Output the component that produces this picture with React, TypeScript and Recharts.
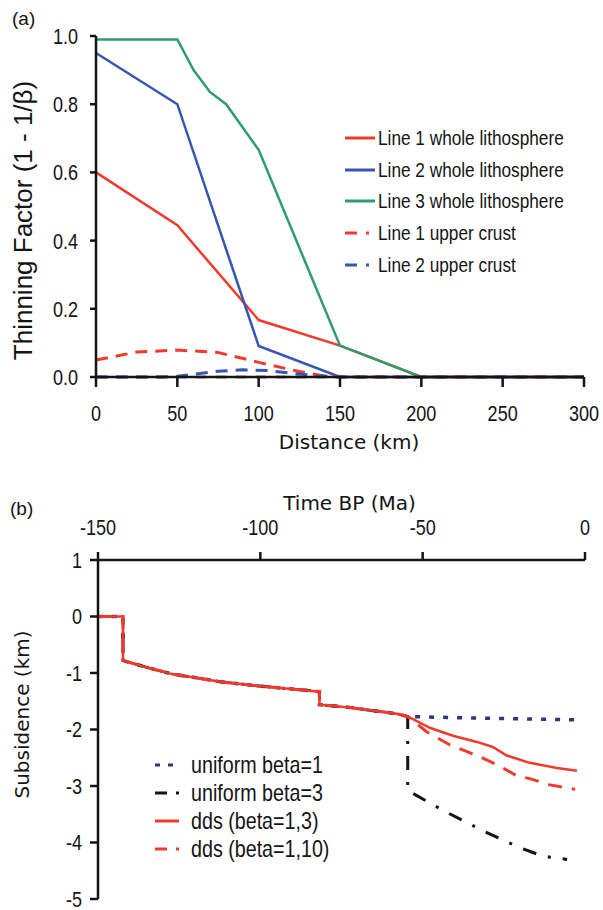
import React from "react"
import { Label, Legend, Line, LineChart, XAxis, YAxis } from "recharts"

// ---------- (a) thinning factor vs distance ----------
const line1WholeKm = [0, 50, 100, 150, 200, 300]
const line1WholeThin = [0.6, 0.445, 0.167, 0.092, 0, 0]

const line2WholeKm = [0, 50, 100, 150, 300]
const line2WholeThin = [0.95, 0.8, 0.091, 0, 0]

const line3WholeKm = [0, 50, 60, 70, 80, 100, 150, 200, 300]
const line3WholeThin = [0.99, 0.99, 0.9, 0.836, 0.8, 0.666, 0.092, 0, 0]

const line1CrustKm = [0, 25, 50, 75, 100, 125, 140, 150, 300]
const line1CrustThin = [0.05, 0.073, 0.079, 0.072, 0.043, 0.016, 0.003, 0, 0]

const line2CrustKm = [0, 40, 50, 60, 75, 90, 105, 120, 135, 150, 300]
const line2CrustThin = [0, 0, 0.002, 0.008, 0.017, 0.021, 0.019, 0.011, 0.004, 0, 0]

const line3CrustKm = [0, 300]
const line3CrustThin = [0, 0]

const distanceTicks = [0, 50, 100, 150, 200, 250, 300]
const thinningTicks = [0, 0.2, 0.4, 0.6, 0.8, 1.0]
const legendOrderA = [
  "Line 1 whole lithosphere",
  "Line 2 whole lithosphere",
  "Line 3 whole lithosphere",
  "Line 1 upper crust",
  "Line 2 upper crust",
]

// ---------- (b) subsidence vs time ----------
const preRiftMa = [-150, -142.3, -142.3, -135, -127, -118, -111.7, -102, -93, -81.8, -81.8, -72.5, -65, -58, -54.6]
const preRiftKm = [0, 0, -0.78, -0.9, -1.02, -1.1, -1.16, -1.22, -1.27, -1.33, -1.56, -1.61, -1.67, -1.72, -1.77]

const uniform1Ma = [-40, -20, -2.5]
const uniform1Km = [-1.79, -1.81, -1.83]

const uniform3Ma = [-54.6, -43.8, -31.5, -21, -14.5, -10.8, -5.5]
const uniform3Km = [-3.08, -3.43, -3.79, -4.07, -4.21, -4.26, -4.3]

const dds13Ma = [-47.8, -40.7, -33.3, -28.4, -24.1, -17, -8.6, -2.5]
const dds13Km = [-1.97, -2.11, -2.22, -2.31, -2.46, -2.59, -2.68, -2.73]

const dds110Ma = [-48.8, -41.7, -33.3, -27.2, -21, -17, -10.8, -3]
const dds110Km = [-2.04, -2.27, -2.46, -2.62, -2.82, -2.87, -2.98, -3.06]

const timeTicks = [-150, -100, -50, 0]
const subsidenceTicks = [1, 0, -1, -2, -3, -4, -5]
const legendOrderB = ["uniform beta=1", "uniform beta=3", "dds (beta=1,3)", "dds (beta=1,10)"]

const pts = (xs: number[], ys: number[]) => xs.map((x, i) => ({ x, y: ys[i] }))

const preRift = pts(preRiftMa, preRiftKm)

const RED = "#f23a2c"
const BLUE = "#3656b2"
const GREEN = "#2f9c6c"
const NAVY = "#2c3877"
const INK = "#141414"

const SANS = '"Liberation Sans", Arial, sans-serif'
const WIDE = '"DejaVu Sans", Verdana, sans-serif'
const SQUEEZE = 0.82

const legendDash: Record<string, string | undefined> = {
  "Line 1 upper crust": "12 9 3 9",
  "Line 2 upper crust": "12 9 3 9",
  "uniform beta=1": "5 8",
  "uniform beta=3": "12 9 3 9",
  "dds (beta=1,10)": "12 9 3 9",
}

const makeLegend = (order: string[], rowH: number, fontSize: number, sampleW: number, gap: number) => (props: any) => {
  const items = (props.payload || [])
    .filter((e: any) => order.includes(e.value))
    .sort((a: any, b: any) => order.indexOf(a.value) - order.indexOf(b.value))
  return (
    <div style={{ fontFamily: SANS, fontSize, color: INK, textAlign: "left" }}>
      {items.map((entry: any) => (
        <div key={entry.value} style={{ display: "flex", alignItems: "center", height: rowH }}>
          <svg width={sampleW} height={6} style={{ marginRight: gap, flex: "none" }}>
            <line x1={0} y1={3} x2={sampleW} y2={3} stroke={entry.color} strokeWidth={3} strokeDasharray={legendDash[entry.value]} />
          </svg>
          <span style={{ whiteSpace: "nowrap", display: "inline-block", transform: `scaleX(${SQUEEZE})`, transformOrigin: "left center" }}>
            {entry.value}
          </span>
        </div>
      ))}
    </div>
  )
}

// tick text squeezed sideways, like the condensed face of the original
const narrowTick = (side: "bottom" | "top" | "left", fmt?: (v: number) => string) => (props: any) => {
  const { x, y, payload } = props
  const label = fmt ? fmt(payload.value) : String(payload.value)
  const anchor = side === "left" ? "end" : "middle"
  const dy = side === "bottom" ? "0.72em" : side === "top" ? "0em" : "0.36em"
  return (
    <g transform={`translate(${x},${y}) scale(${SQUEEZE},1)`}>
      <text x={0} y={0} dy={dy} textAnchor={anchor} fill={INK} fontSize={22} fontFamily={SANS}>
        {label}
      </text>
    </g>
  )
}

const yTitle = (text: string, x: number, dy: number, font: string, size: number) => (props: any) => {
  const vb = props.viewBox
  const cy = vb.y + vb.height / 2 + dy
  return (
    <text
      x={x}
      y={cy}
      transform={`rotate(-90, ${x}, ${cy})`}
      textAnchor="middle"
      dominantBaseline="central"
      fill={INK}
      fontSize={size}
      fontFamily={font}
    >
      {text}
    </text>
  )
}

const xTitle = (text: string, dx: number, y: number) => (props: any) => {
  const vb = props.viewBox
  return (
    <text x={vb.x + vb.width / 2 + dx} y={y} textAnchor="middle" dominantBaseline="central" fill={INK} fontSize={20} fontFamily={WIDE}>
      {text}
    </text>
  )
}

const axisLine = { stroke: INK, strokeWidth: 2.5 }

export default function App() {
  return (
    <div style={{ position: "absolute", left: 0, top: 0, width: 603, height: 910, background: "#fff" }}>
      <div style={{ position: "absolute", left: 12, top: 8, fontFamily: SANS, fontSize: 19, color: INK }}>(a)</div>
      <div style={{ position: "absolute", left: 10, top: 498, fontFamily: SANS, fontSize: 19, color: INK }}>(b)</div>

      <div style={{ position: "absolute", left: 0, top: 0 }}>
        <LineChart width={603} height={470} margin={{ top: 36, right: 19, left: 0, bottom: 18 }}>
          <XAxis
            dataKey="x"
            type="number"
            domain={[0, 300]}
            ticks={distanceTicks}
            axisLine={axisLine}
            tickLine={axisLine}
            tickSize={10}
            tickMargin={18}
            tick={narrowTick("bottom")}
            height={75}
          >
            <Label content={xTitle("Distance (km)", 9, 442)} />
          </XAxis>
          <YAxis
            dataKey="y"
            type="number"
            domain={[0, 1]}
            ticks={thinningTicks}
            axisLine={axisLine}
            tickLine={axisLine}
            tickSize={6}
            tickMargin={12}
            tick={narrowTick("left", (v) => v.toFixed(1))}
            width={96}
          >
            <Label content={yTitle("Thinning Factor (1 - 1/β)", 23, 14, SANS, 26)} />
          </YAxis>
          <Legend
            layout="horizontal"
            verticalAlign="middle"
            align="center"
            content={makeLegend(legendOrderA, 31.75, 21, 30, 3)}
            wrapperStyle={{ position: "absolute", left: 345, top: 122, width: 250, height: 160 }}
          />
          <Line data={pts(line3CrustKm, line3CrustThin)} dataKey="y" name="Line 3 upper crust" stroke={INK} strokeWidth={2.5} strokeDasharray="10 10" dot={false} legendType="none" isAnimationActive={false} />
          <Line data={pts(line1WholeKm, line1WholeThin)} dataKey="y" name="Line 1 whole lithosphere" stroke={RED} strokeWidth={2.5} dot={false} isAnimationActive={false} />
          <Line data={pts(line2WholeKm, line2WholeThin)} dataKey="y" name="Line 2 whole lithosphere" stroke={BLUE} strokeWidth={2.5} dot={false} isAnimationActive={false} />
          <Line data={pts(line3WholeKm, line3WholeThin)} dataKey="y" name="Line 3 whole lithosphere" stroke={GREEN} strokeWidth={2.5} dot={false} isAnimationActive={false} />
          <Line data={pts(line1CrustKm, line1CrustThin)} dataKey="y" name="Line 1 upper crust" stroke={RED} strokeWidth={3} strokeDasharray="12 8" dot={false} isAnimationActive={false} />
          <Line data={pts(line2CrustKm, line2CrustThin)} dataKey="y" name="Line 2 upper crust" stroke={BLUE} strokeWidth={3} strokeDasharray="12 8" dot={false} isAnimationActive={false} />
        </LineChart>
      </div>

      <div style={{ position: "absolute", left: 0, top: 470 }}>
        <LineChart width={603} height={440} margin={{ top: 10, right: 18, left: 0, bottom: 11 }}>
          <XAxis
            dataKey="x"
            type="number"
            orientation="top"
            domain={[-150, 0]}
            ticks={timeTicks}
            axisLine={axisLine}
            tickLine={axisLine}
            tickSize={8}
            tickMargin={17}
            tick={narrowTick("top")}
            height={80}
          >
            <Label content={xTitle("Time BP (Ma)", 8, 33)} />
          </XAxis>
          <YAxis
            dataKey="y"
            type="number"
            domain={[-5, 1]}
            ticks={subsidenceTicks}
            axisLine={axisLine}
            tickLine={axisLine}
            tickSize={8}
            tickMargin={8}
            tick={narrowTick("left")}
            width={98}
          >
            <Label content={yTitle("Subsidence (km)", 22, -15, WIDE, 20)} />
          </YAxis>
          <Legend
            layout="horizontal"
            verticalAlign="middle"
            align="center"
            content={makeLegend(legendOrderB, 28, 24, 24, 12)}
            wrapperStyle={{ position: "absolute", left: 155, top: 281, width: 250, height: 112 }}
          />
          <Line data={[...preRift, ...pts(uniform1Ma, uniform1Km)]} dataKey="y" name="uniform beta=1" stroke={NAVY} strokeWidth={3.5} strokeDasharray="5 9" dot={false} isAnimationActive={false} />
          <Line data={[...preRift, ...pts(uniform3Ma, uniform3Km)]} dataKey="y" name="uniform beta=3" stroke={INK} strokeWidth={3} strokeDasharray="14 12 3 12" dot={false} isAnimationActive={false} />
          <Line data={[...preRift, ...pts(dds13Ma, dds13Km)]} dataKey="y" name="dds (beta=1,3)" stroke={RED} strokeWidth={2.5} dot={false} isAnimationActive={false} />
          <Line data={[...preRift, ...pts(dds110Ma, dds110Km)]} dataKey="y" name="dds (beta=1,10)" stroke={RED} strokeWidth={3} strokeDasharray="14 10" dot={false} isAnimationActive={false} />
        </LineChart>
      </div>
    </div>
  )
}
